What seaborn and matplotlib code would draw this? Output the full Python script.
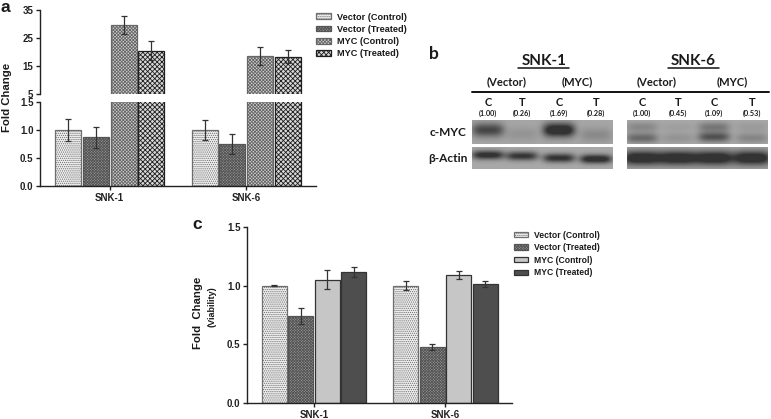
import numpy as np
import pandas as pd
import matplotlib
matplotlib.use("Agg")
import matplotlib.pyplot as plt
import seaborn as sns

W, H = 771, 419

cells = ["SNK-1", "SNK-6"]
groups = ["Vector (Control)", "Vector (Treated)", "MYC (Control)", "MYC (Treated)"]

# panel a, fold change
a_vals = [1.0, 0.87, 29.5, 20.5, 1.0, 0.75, 18.5, 18.3]
a_errs = [0.19, 0.19, 3.2, 3.5, 0.18, 0.18, 3.2, 2.3]

# panel c, viability
c_vals = [1.0, 0.74, 1.05, 1.115, 1.0, 0.48, 1.09, 1.015]
c_errs = [0.004, 0.07, 0.08, 0.045, 0.04, 0.025, 0.035, 0.025]

# panel b, densitometry labels
lane_names = ["C", "T", "C", "T"]
snk1_ratio = ["(1.00)", "(0.26)", "(1.69)", "(0.28)"]
snk6_ratio = ["(1.00)", "(0.45)", "(1.09)", "(0.53)"]

# panel b, band darkness per lane
snk1_myc_dark = [0.85, 0.16, 1.3, 0.25]
snk1_actin_dark = [1.1, 1.0, 1.05, 1.2]
snk6_myc_upper = [0.28, 0.08, 0.42, 0.12]
snk6_myc_lower = [0.55, 0.18, 0.75, 0.3]
snk6_actin_dark = [1.3, 1.3, 1.3, 1.3]

sns.set_theme(style="ticks")
plt.rcParams["font.family"] = ["Liberation Sans", "DejaVu Sans"]
plt.rcParams["font.weight"] = "bold"
plt.rcParams["axes.labelweight"] = "bold"
plt.rcParams["hatch.linewidth"] = 0.6
plt.rcParams["axes.edgecolor"] = "#222222"
plt.rcParams["xtick.color"] = "#222222"
plt.rcParams["ytick.color"] = "#222222"
plt.rcParams["text.color"] = "#1a1a1a"


def box(x0, y0, x1, y1):
    # pixel box (top-left origin) to figure fractions
    return [x0 / W, 1 - y1 / H, (x1 - x0) / W, (y1 - y0) / H]


def make_df(vals):
    return pd.DataFrame({
        "cell": [c for c in cells for _ in groups],
        "group": groups * len(cells),
        "value": vals,
    })


def draw_bars(ax, vals, errs, colors, hatches, edges):
    sns.barplot(data=make_df(vals), x="cell", y="value", hue="group", order=cells,
                hue_order=groups, palette=colors, width=0.81, gap=0.06, saturation=1,
                linewidth=0.9, legend=False, ax=ax)
    bars = list(ax.containers)
    # hatch colour follows the edge colour
    for cont, hatch, edge in zip(bars, hatches, edges):
        for patch in cont:
            patch.set_hatch(hatch)
            patch.set_edgecolor(edge)
    # bars come grouped by hue, the values by cell
    for i, cont in enumerate(bars):
        for j, patch in enumerate(cont):
            k = j * len(groups) + i
            ax.errorbar(patch.get_x() + patch.get_width() / 2, vals[k], yerr=errs[k],
                        color="#333333", lw=0.9, capsize=2.5, capthick=0.9)
    ax.set_xlabel("")
    ax.set_ylabel("")
    return bars


def style_axis(ax, size=7):
    ax.tick_params(axis="both", length=3.2, width=1, pad=1.5, labelsize=size)
    for spine in ["top", "right"]:
        ax.spines[spine].set_visible(False)
    ax.spines["left"].set_linewidth(1)
    ax.spines["bottom"].set_linewidth(1)


def add_legend(fig, bars, x, y, size, spacing):
    fig.legend(handles=bars, labels=groups, loc="upper left", bbox_to_anchor=(x / W, 1 - y / H),
               frameon=False, fontsize=size, handlelength=1.6, handleheight=0.6,
               handletextpad=0.7, labelspacing=spacing, borderpad=0, borderaxespad=0)


fig = plt.figure(figsize=(W / 100, H / 100), dpi=100)

# panel a
a_colors = ["#f0f0f0", "#9a9a9a", "#cfcfcf", "#d8d8d8"]
a_hatches = ["........", "xxxxxxxxxxxx", "xxxxxxxxxx", "xxxxxxx"]
a_edges = ["#6e6e6e", "#555555", "#666666", "#1e1e1e"]

ax_low = fig.add_axes(box(40, 102, 316, 186))
ax_up = fig.add_axes(box(40, 10, 316, 94))
bars_a = draw_bars(ax_low, a_vals, a_errs, a_colors, a_hatches, a_edges)
draw_bars(ax_up, a_vals, a_errs, a_colors, a_hatches, a_edges)
ax_low.set_ylim(0, 1.5)
ax_low.set_yticks([0, 0.5, 1.0, 1.5])
ax_up.set_ylim(5, 35)
ax_up.set_yticks([5, 15, 25, 35])
for ax in [ax_low, ax_up]:
    ax.set_xlim(-0.51, 1.51)
    style_axis(ax)
ax_up.spines["bottom"].set_visible(False)
ax_up.tick_params(axis="x", length=0, labelbottom=False)
add_legend(fig, bars_a, 316, 12.5, 6.6, 0.36)

# panel c
c_colors = ["#f0f0f0", "#9a9a9a", "#c6c6c6", "#4e4e4e"]
c_hatches = ["........", "xxxxxxxxxxxx", "", ""]
c_edges = ["#6e6e6e", "#555555", "#333333", "#333333"]

ax_c = fig.add_axes(box(247, 227, 512, 403))
bars_c = draw_bars(ax_c, c_vals, c_errs, c_colors, c_hatches, c_edges)
ax_c.set_ylim(0, 1.5)
ax_c.set_yticks([0, 0.5, 1.0, 1.5])
ax_c.set_xlim(-0.51, 1.506)
style_axis(ax_c)
add_legend(fig, bars_c, 514, 230.5, 6.2, 0.42)

# overlay in pixel coordinates for the free text
over = fig.add_axes([0, 0, 1, 1], zorder=5)
over.set_xlim(0, W)
over.set_ylim(H, 0)
over.axis("off")
over.patch.set_alpha(0)


def label(x, y, s, size, **kw):
    kw.setdefault("ha", "center")
    over.text(x, y, s, fontsize=size, va="center", **kw)


blot_font = ["Lato", "DejaVu Sans"]
label(5, 7, "a", 12.5)
label(434, 54, "b", 12.5, family=blot_font)
label(197, 224, "c", 12.5)
label(7, 97, "Fold Change", 8.2, rotation=90)
label(198, 313, "Fold  Change", 8.2, rotation=90)
label(212, 307, "(Viability)", 6.5, rotation=90)

# panel b text
snk1_lanes = [488, 522, 559, 596]
snk6_lanes = [642, 678, 714, 752]
label(544, 61, "SNK-1", 11, family=blot_font)
label(693, 61, "SNK-6", 11, family=blot_font)
over.plot([518, 569], [68, 68], color="#111111", lw=1.1)
over.plot([668, 719], [68, 68], color="#111111", lw=1.1)
over.plot([472, 769], [92, 92], color="#111111", lw=1.4)
for x, s in zip([507, 577, 657, 732], ["(Vector)", "(MYC)", "(Vector)", "(MYC)"]):
    label(x, 82, s, 8, family=blot_font)
for lanes, ratios in [(snk1_lanes, snk1_ratio), (snk6_lanes, snk6_ratio)]:
    for x, name, r in zip(lanes, lane_names, ratios):
        label(x, 102, name, 8, family=blot_font)
        label(x, 113, r, 5.2, family=blot_font)
label(448, 132, "c-MYC", 8.6, family=blot_font)
label(448, 158, "β-Actin", 8.6, family=blot_font)


def gel(x0, y0, x1, y1, lanes, band_sets, half_w, half_h, back):
    xs, ys = np.meshgrid(np.arange(x0, x1) + 0.5, np.arange(y0, y1) + 0.5)
    dark = np.zeros_like(xs)
    for centers, darks in band_sets:
        for lx, cy, d in zip(lanes, centers, darks):
            dark += d * np.exp(-((xs - lx) / half_w) ** 4 - ((ys - cy) / half_h) ** 2)
    dark = np.clip(dark, 0, 1)
    img = back * (1 - dark) + 0.2 * dark
    ax = fig.add_axes(box(x0, y0, x1, y1), zorder=4)
    sns.heatmap(img, cmap="gray", vmin=0, vmax=1, cbar=False, xticklabels=False,
                yticklabels=False, ax=ax)
    ax.tick_params(length=0)


gel(472, 120, 613, 144, snk1_lanes, [([130, 134, 130, 135], snk1_myc_dark)], 16, 7, 0.65)
gel(472, 147, 613, 169, snk1_lanes, [([155, 156, 158, 159], snk1_actin_dark)], 16, 4.5, 0.66)
gel(627, 120, 768, 144, snk6_lanes,
    [([127, 127, 127, 127], snk6_myc_upper), ([138, 138, 137, 138], snk6_myc_lower)], 16, 5, 0.66)
gel(627, 147, 768, 169, snk6_lanes, [([158, 158, 158, 158], snk6_actin_dark)], 19, 7, 0.64)

fig.savefig("out.png", dpi=100)
plt.close(fig)
